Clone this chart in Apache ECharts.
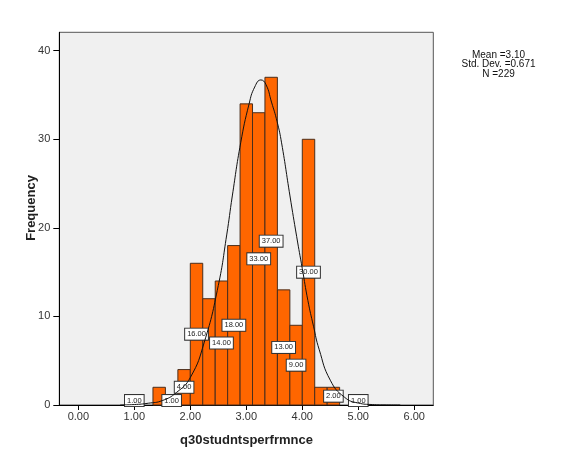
<!DOCTYPE html>
<html>
<head>
<meta charset="utf-8">
<script src="https://cdn.jsdelivr.net/npm/echarts@6/dist/echarts.min.js"></script>
<style>
html,body{margin:0;padding:0;background:#fff;}
#c{width:580px;height:464px;}
</style>
</head>
<body>
<div id="c"></div>
<script>
// Histogram bins (centers), frequencies and value labels
const binCenters = [1.000, 1.222, 1.444, 1.667, 1.889, 2.111, 2.333, 2.556, 2.778, 3.000, 3.222, 3.444, 3.667, 3.889, 4.111, 4.333, 4.556, 4.778, 5.000];
const counts     = [1, 0, 2, 1, 4, 16, 12, 14, 18, 34, 33, 37, 13, 9, 30, 2, 2, 0, 1];
const barLabels  = ['1.00', '', '', '1.00', '4.00', '16.00', '', '14.00', '18.00', '', '33.00', '37.00', '13.00', '9.00', '30.00', '', '2.00', '', '1.00'];
const binWidth = 0.2222;

// Normal curve points
const curveX = [0.75, 1.00, 1.25, 1.50, 1.75, 2.00, 2.25, 2.50, 2.65, 2.75, 2.90, 3.05, 3.15, 3.26, 3.35, 3.45, 3.55, 3.63, 3.78, 3.90, 4.00, 4.10, 4.20, 4.30, 4.50, 4.75, 5.00, 5.25, 5.50, 5.75];
const curveY = [0.0, 0.05, 0.2, 0.5, 1.4, 3.1, 7.1, 13.5, 19.2, 23.6, 29.6, 34.0, 35.9, 36.7, 36.2, 34.2, 32.0, 29.6, 23.6, 19.0, 15.4, 11.8, 8.9, 6.3, 2.8, 0.9, 0.22, 0.05, 0.01, 0.0];

// Axis ticks
const xTicks = [0, 1, 2, 3, 4, 5, 6];
const yTicks = [0, 10, 20, 30, 40];

// Statistics text
const statLines = ['Mean =3.10', 'Std. Dev. =0.671', 'N =229'];

const barData = binCenters.map((c, i) => [c, counts[i], barLabels[i]]);
const curveData = curveX.map((x, i) => [x, curveY[i]]);

const chart = echarts.init(document.getElementById('c'), null, {renderer: 'canvas'});
const FONT = 'Arial, "Liberation Sans", sans-serif';

chart.setOption({
  animation: false,
  backgroundColor: '#ffffff',
  grid: {
    left: 59.3, right: 146.7, top: 32.3, bottom: 59,
    show: true, backgroundColor: '#f0f0f0', borderColor: '#555', borderWidth: 1
  },
  xAxis: {
    type: 'value', min: -0.34, max: 6.34,
    axisLine: {show: true, onZero: false, lineStyle: {color: '#000', width: 1}},
    axisTick: {show: true, length: 5, inside: false, customValues: xTicks, lineStyle: {color: '#000'}},
    axisLabel: {show: true, customValues: xTicks, color: '#333', fontSize: 11, fontFamily: FONT, margin: 6,
      formatter: v => v.toFixed(2)},
    splitLine: {show: false}
  },
  yAxis: {
    type: 'value', min: 0, max: 42.08,
    axisLine: {show: true, onZero: false, lineStyle: {color: '#000', width: 1}},
    axisTick: {show: true, length: 6, customValues: yTicks, lineStyle: {color: '#000'}},
    axisLabel: {show: true, customValues: yTicks, color: '#333', fontSize: 11, fontFamily: FONT, margin: 9},
    splitLine: {show: false}
  },
  series: [
    {
      type: 'custom',
      z: 2,
      data: barData,
      renderItem: function (params, api) {
        const c = api.value(0), n = api.value(1);
        if (!n) return null;
        const p0 = api.coord([c - binWidth / 2, n]);
        const p1 = api.coord([c + binWidth / 2, 0]);
        return {
          type: 'rect',
          shape: {x: p0[0], y: p0[1], width: p1[0] - p0[0], height: p1[1] - p0[1]},
          style: {fill: '#ff6600', stroke: '#4a2e1c', lineWidth: 1}
        };
      }
    },
    {
      type: 'custom',
      z: 3,
      data: barData,
      renderItem: function (params, api) {
        const c = api.value(0), n = api.value(1);
        const txt = barLabels[params.dataIndex];
        if (!txt) return null;
        const p = api.coord([c, n / 2]);
        return {
          type: 'text',
          x: p[0], y: p[1],
          style: {
            text: txt, align: 'center', verticalAlign: 'middle',
            font: '7.5px ' + FONT, fill: '#222',
            backgroundColor: '#ffffff', borderColor: '#333', borderWidth: 1,
            padding: [2, 2, 1, 2]
          }
        };
      }
    },
    {
      type: 'line',
      z: 4,
      data: curveData,
      smooth: true,
      symbol: 'none',
      lineStyle: {color: '#111', width: 1}
    }
  ],
  graphic: [
    {
      type: 'text', x: 31.7, y: 208, rotation: Math.PI / 2,
      style: {text: 'Frequency', font: 'bold 13px ' + FONT, fill: '#222', align: 'center', verticalAlign: 'middle'}
    },
    {
      type: 'text', x: 246.5, y: 440,
      style: {text: 'q30studntsperfrmnce', font: 'bold 13px ' + FONT, fill: '#222', align: 'center', verticalAlign: 'middle'}
    },
    {
      type: 'text', x: 498.5, y: 50,
      style: {text: statLines.join('\n'), font: '10px ' + FONT, lineHeight: 9.8, fill: '#111', align: 'center', verticalAlign: 'top'}
    }
  ]
});
</script>
</body>
</html>
